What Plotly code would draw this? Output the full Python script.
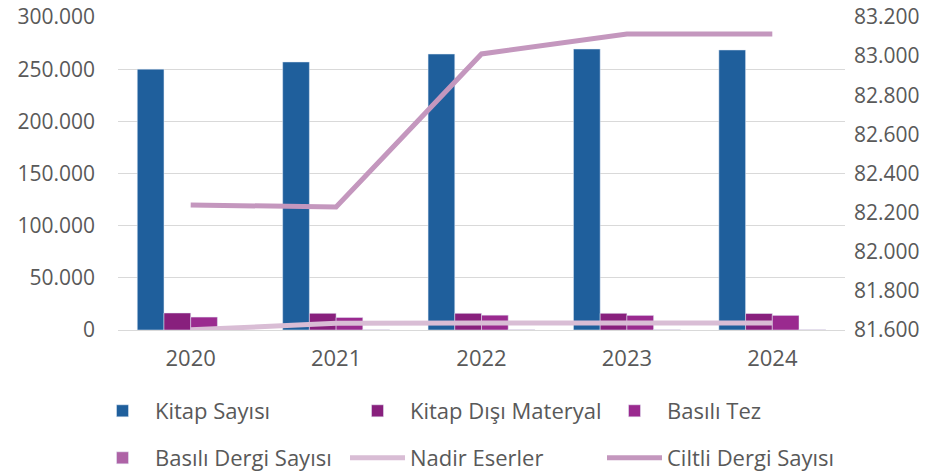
import plotly.graph_objects as go

years = ["2020", "2021", "2022", "2023", "2024"]
kitap_sayisi = [250000, 256900, 264500, 269300, 268400]
kitap_disi_materyal = [16300, 16000, 16000, 16000, 15800]
basili_tez = [12400, 12000, 14200, 14000, 14000]
basili_dergi_sayisi = [300, 300, 300, 300, 300]
nadir_eserler = [200, 6400, 6600, 6600, 6600]
ciltli_dergi_sayisi = [82239, 82229, 83011, 83113, 83113]

FONT = "Open Sans"
GRAY = "#595959"
TICK = 21
XTICK = 22
LEG = 22

fig = go.Figure()
fig.add_trace(go.Bar(name="Kitap Sayısı", x=years, y=kitap_sayisi, marker_color="#1F5F9C", legend="legend"))
fig.add_trace(go.Bar(name="Kitap Dışı Materyal", x=years, y=kitap_disi_materyal, marker_color="#88207D", legend="legend2"))
fig.add_trace(go.Bar(name="Basılı Tez", x=years, y=basili_tez, marker_color="#9A2A8F", legend="legend3"))
fig.add_trace(go.Bar(name="Basılı Dergi Sayısı", x=years, y=basili_dergi_sayisi, marker_color="#AE63A6", legend="legend4"))
fig.add_trace(go.Scatter(name="Nadir Eserler", x=years, y=nadir_eserler, mode="lines",
                         line=dict(color="#D9BDD5", width=5), legend="legend5"))
fig.add_trace(go.Scatter(name="Ciltli Dergi Sayısı", x=years, y=ciltli_dergi_sayisi, mode="lines",
                         yaxis="y2", line=dict(color="#C497BE", width=5), legend="legend6"))

leg_common = dict(orientation="h", xanchor="left", yanchor="middle",
                  xref="container", yref="container", itemwidth=55,
                  font=dict(family=FONT, size=LEG, color=GRAY),
                  bgcolor="rgba(0,0,0,0)")
col_x = [90 / 938, 345 / 938, 602 / 938]
row_y = [1 - 411 / 472, 1 - 458 / 472]

fig.update_layout(
    width=938, height=472,
    margin=dict(l=118, r=93, t=17, b=142),
    paper_bgcolor="white", plot_bgcolor="white",
    separators=",.",
    barmode="group", bargap=0.265, bargroupgap=0,
    font=dict(family=FONT, size=TICK, color=GRAY),
    showlegend=True,
    legend=dict(x=col_x[0], y=row_y[0], **leg_common),
    legend2=dict(x=col_x[1], y=row_y[0], **leg_common),
    legend3=dict(x=col_x[2], y=row_y[0], **leg_common),
    legend4=dict(x=col_x[0], y=row_y[1], **leg_common),
    legend5=dict(x=col_x[1], y=row_y[1], **leg_common),
    legend6=dict(x=col_x[2], y=row_y[1], **leg_common),
    xaxis=dict(showgrid=False, showline=True, linecolor="#D9D9D9", linewidth=1,
               ticks="", ticklabelstandoff=9, automargin=False,
               tickfont=dict(family=FONT, size=XTICK, color=GRAY)),
    yaxis=dict(range=[0, 300000], dtick=50000, tickformat=",.0f",
               showgrid=True, gridcolor="#D9D9D9", gridwidth=1, zeroline=False,
               ticks="", ticklabelstandoff=22, automargin=False, ticklabeloverflow="allow",
               tickfont=dict(family=FONT, size=TICK, color=GRAY)),
    yaxis2=dict(range=[81600, 83200], dtick=200, tickformat=",.0f",
                overlaying="y", side="right", showgrid=False, zeroline=False,
                ticks="", ticklabelstandoff=8, automargin=False, ticklabeloverflow="allow",
                tickfont=dict(family=FONT, size=TICK, color=GRAY)),
)

fig.write_html("out.html", config={"displayModeBar": False},
               post_script="document.body.style.margin='0';")
